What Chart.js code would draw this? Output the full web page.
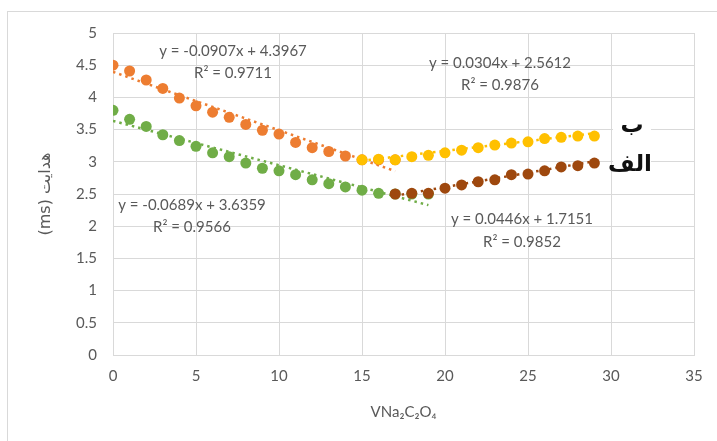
<!DOCTYPE html>
<html>
<head>
<meta charset="utf-8">
<script src="https://cdn.jsdelivr.net/npm/chart.js@4"></script>
<style>
  body { margin: 0; background: #fff; }
  #wrap { width: 717px; height: 441px; }
</style>
</head>
<body>
<div id="wrap"><canvas id="chart" width="717" height="441"></canvas></div>
<script>
// series A (الف) before the minimum: green, after: brown
const greenX = [0, 1, 2, 3, 4, 5, 6, 7, 8, 9, 10, 11, 12, 13, 14, 15, 16, 17, 18, 19];
const greenY = [3.80, 3.66, 3.55, 3.42, 3.33, 3.24, 3.14, 3.08, 2.98, 2.90, 2.86, 2.80, 2.72, 2.66, 2.61, 2.56, 2.51, 2.50, 2.50, 2.50];
const brownX = [17, 18, 19, 20, 21, 22, 23, 24, 25, 26, 27, 28, 29];
const brownY = [2.50, 2.51, 2.51, 2.59, 2.64, 2.69, 2.72, 2.80, 2.81, 2.86, 2.92, 2.94, 2.98];

// series B (ب) before the minimum: orange, after: yellow
const orangeX = [0, 1, 2, 3, 4, 5, 6, 7, 8, 9, 10, 11, 12, 13, 14, 15, 16, 17];
const orangeY = [4.50, 4.41, 4.27, 4.14, 3.99, 3.87, 3.77, 3.69, 3.58, 3.49, 3.43, 3.30, 3.22, 3.16, 3.09, 3.03, 3.03, 3.03];
const yellowX = [15, 16, 17, 18, 19, 20, 21, 22, 23, 24, 25, 26, 27, 28, 29];
const yellowY = [3.03, 3.04, 3.03, 3.08, 3.10, 3.14, 3.18, 3.22, 3.26, 3.29, 3.31, 3.36, 3.38, 3.40, 3.40];

// trendlines: orange, yellow, green, brown
const trendSlope = [-0.0907, 0.0304, -0.0689, 0.0446];
const trendIntercept = [4.3967, 2.5612, 3.6359, 1.7151];
const trendR2 = ["0.9711", "0.9876", "0.9566", "0.9852"];

const xTitle = "VNa\u2082C\u2082O\u2084";
const yTitle = "(ms) هدایت";
const seriesNames = ["ب", "الف"];

const COLORS = ["#ED7D31", "#FFC000", "#70AD47", "#9E480E"];
const seriesX = [orangeX, yellowX, greenX, brownX];
const seriesY = [orangeY, yellowY, greenY, brownY];

function pts(xs, ys) {
    return xs.map((x, i) => ({ x: x, y: ys[i] }));
}

function trendPts(i) {
    const xs = seriesX[i];
    const a = xs[0], b = xs[xs.length - 1];
    return [{ x: a, y: trendSlope[i] * a + trendIntercept[i] }, { x: b, y: trendSlope[i] * b + trendIntercept[i] }];
}

function eqText(i) {
    const m = trendSlope[i];
    return "y = " + (m < 0 ? "-" : "") + Math.abs(m) + "x + " + trendIntercept[i].toFixed(4);
}

const datasets = [];
// point order: yellow/brown on top of orange/green
const pointOrder = [1, 0, 1, 0];
for (let i = 0; i < 4; i++) {
    datasets.push({
        data: pts(seriesX[i], seriesY[i]),
        backgroundColor: COLORS[i],
        borderColor: COLORS[i],
        pointRadius: 5.5,
        pointBorderWidth: 0,
        showLine: false,
        order: pointOrder[i]
    });
}
for (let i = 0; i < 4; i++) {
    datasets.push({
        type: "line",
        data: trendPts(i),
        borderColor: COLORS[i],
        borderWidth: 2.5,
        borderDash: [2.5, 4],
        pointRadius: 0,
        fill: false,
        order: 2
    });
}

// equation label centres (pixels) for orange, yellow, green, brown
const eqPos = [[233, 51, 73], [500, 63, 85], [192, 205, 227], [522, 219, 242]];

const decorPlugin = {
    id: "decor",
    beforeDraw(chart) {
        const ctx = chart.ctx;
        ctx.save();
        ctx.fillStyle = "#fff";
        ctx.fillRect(0, 0, chart.width, chart.height);
        ctx.strokeStyle = "#d9d9d9";
        ctx.lineWidth = 1;
        ctx.strokeRect(7.5, 11.5, 800, 500);
        ctx.restore();
    },
    beforeDatasetsDraw(chart) {
        // legend box over the grid
        const ctx = chart.ctx;
        ctx.save();
        ctx.fillStyle = "#fff";
        ctx.fillRect(613, 111, 38, 67);
        ctx.fillStyle = "#111";
        ctx.font = "bold 23px 'DejaVu Sans'";
        ctx.textAlign = "center";
        ctx.textBaseline = "middle";
        ctx.fillText(seriesNames[0], 632, 126);
        ctx.fillText(seriesNames[1], 630, 165);
        ctx.restore();
    },
    afterDatasetsDraw(chart) {
        const ctx = chart.ctx;
        ctx.save();
        ctx.fillStyle = "#595959";
        ctx.font = "15px Lato";
        ctx.textAlign = "center";
        ctx.textBaseline = "middle";
        for (let i = 0; i < 4; i++) {
            ctx.fillText(eqText(i), eqPos[i][0], eqPos[i][1]);
            ctx.fillText("R\u00B2 = " + trendR2[i], eqPos[i][0], eqPos[i][2]);
        }
        ctx.restore();
    }
};

new Chart(document.getElementById("chart"), {
    type: "scatter",
    data: { datasets: datasets },
    options: {
        responsive: false,
        animation: false,
        layout: { padding: { top: 33, right: 23, left: 0, bottom: 0 } },
        plugins: { legend: { display: false }, tooltip: { enabled: false } },
        scales: {
            x: {
                min: 0, max: 35,
                ticks: { stepSize: 5, color: "#595959", font: { family: "Lato", size: 15 }, padding: 12 },
                grid: { color: "#d9d9d9", drawTicks: false },
                border: { color: "#d9d9d9" },
                title: { display: true, text: xTitle, color: "#595959", font: { family: "Lato", size: 15 }, padding: { bottom: 20 } },
                afterFit(scale) { scale.height = 86; }
            },
            y: {
                min: 0, max: 5,
                ticks: {
                    stepSize: 0.5, color: "#595959", font: { family: "Lato", size: 15 }, padding: 16,
                    callback: (v) => String(Number(v.toFixed(2)))
                },
                grid: { color: "#d9d9d9", drawTicks: false },
                border: { color: "#d9d9d9" },
                title: { display: true, text: yTitle, color: "#595959", font: { family: "DejaVu Sans", size: 16 }, padding: { top: 36 } },
                afterFit(scale) { scale.width = 113; }
            }
        }
    },
    plugins: [decorPlugin]
});
</script>
</body>
</html>
